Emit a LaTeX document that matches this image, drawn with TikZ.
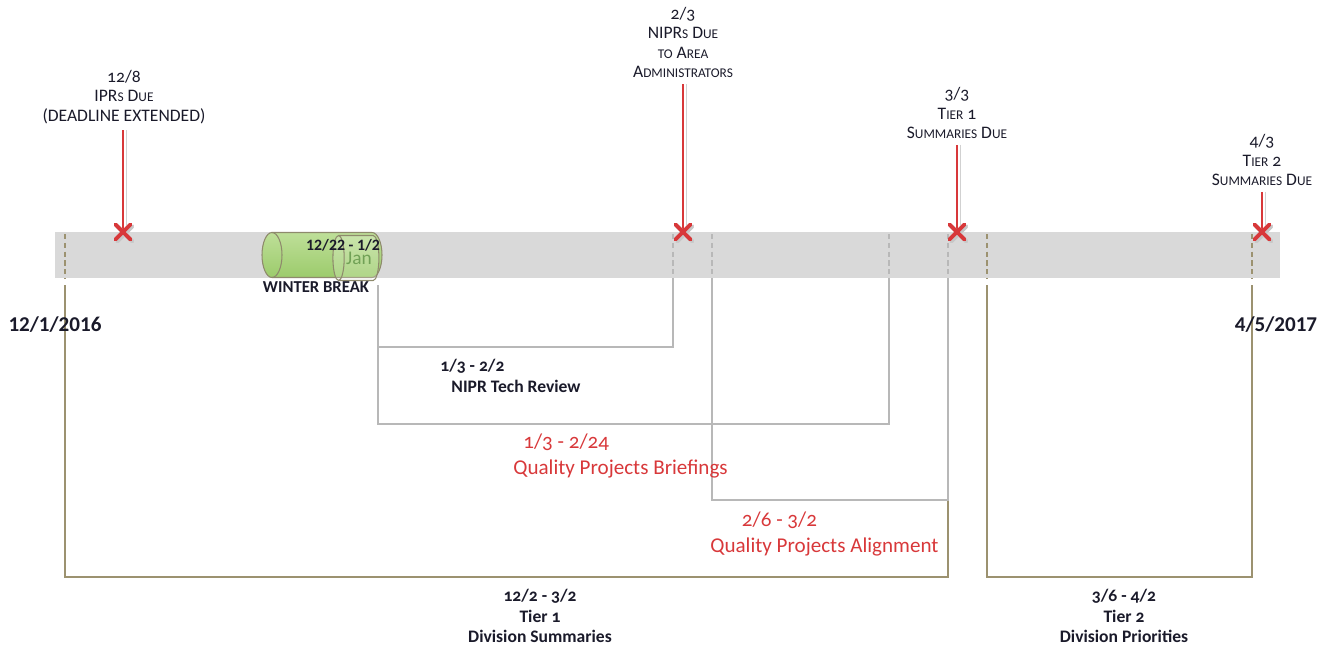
\documentclass[tikz,border=0pt]{standalone}
\usepackage{fontspec}
\setmainfont{Carlito}
\newfontfamily\osf[Numbers=OldStyle]{Carlito}
\usetikzlibrary{shapes.geometric, shapes.misc}

\definecolor{pinred}{HTML}{D8383A}
\definecolor{tiercol}{HTML}{9C9270}
\definecolor{spancol}{HTML}{B8B8B8}
\definecolor{barcol}{HTML}{D9D9D9}
\definecolor{labcol}{HTML}{1A1A2A}
\definecolor{wbtop}{HTML}{BEDF98}
\definecolor{wbmid}{HTML}{78B343}
\definecolor{wbbot}{HTML}{9CCB6C}
\definecolor{wbedge}{HTML}{8E8A6C}

% small capitals made by hand
\newcommand\lc[1]{{\fontsize{7.6}{9}\selectfont\MakeUppercase{#1}}}

\begin{document}
\begin{tikzpicture}[x=0.02cm, y=-0.02cm,
    daytick/.style={dash pattern=on 3pt off 2pt, line width=0.7pt},
    spanline/.style={draw=spancol, line width=0.8pt},
    tierline/.style={draw=tiercol, line width=0.8pt},
    xmark/.style={cross out, draw=pinred, line width=2.2pt, minimum size=0.22cm, inner sep=0pt, line cap=round,
      preaction={draw=black!22, transform canvas={xshift=1pt, yshift=-1pt}}},
    dueline/.style={draw=pinred, line width=0.8pt,
      preaction={draw=black!18, transform canvas={xshift=1.8pt}}},
    duelab/.style={align=center, text=labcol, font=\osf\fontsize{10}{11.1}\selectfont},
    spanlab/.style={align=left, inner sep=0pt, text=labcol, font=\osf\bfseries\fontsize{10}{12}\selectfont},
    qplab/.style={align=left, inner sep=0pt, text=pinred, font=\osf\fontsize{12}{14.8}\selectfont},
    tierlab/.style={align=center, inner sep=0pt, text=labcol, font=\osf\bfseries\fontsize{10}{11.7}\selectfont},
    datelab/.style={inner sep=0pt, text=labcol, font=\bfseries\fontsize{12}{14}\selectfont},
    wbcyl/.style={cylinder, shape border rotate=180, aspect=0.9, draw=wbedge, line width=0.6pt, inner sep=0pt}]
  \useasboundingbox (0,0) rectangle (1330,646);

  % timeline bar
  \fill[barcol] (55,232) rectangle (1280,278);
  \foreach \x in {673,712,889,948} \draw[daytick, spancol] (\x,234) -- (\x,278);
  \foreach \x in {65,987,1252} \draw[daytick, tiercol] (\x,234) -- (\x,278);

  \coordinate (dec1) at (65,285);
  \coordinate (jan3) at (378,285);
  \coordinate (feb2) at (673,279);
  \coordinate (feb6) at (712,279);
  \coordinate (feb24) at (889,279);
  \coordinate (mar2) at (948,279);
  \coordinate (mar6) at (987,285);
  \coordinate (apr2) at (1252,285);

  % spans below the bar
  \draw[tierline] (dec1) -- ++(0,292) -| (mar2);
  \draw[tierline] (mar6) -- ++(0,292) -| (apr2);
  \draw[spanline] (jan3) -- ++(0,62) -| (feb2);
  \draw[spanline] (jan3) -- ++(0,139) -| (feb24);
  \draw[spanline] (feb6) -- ++(0,221) -| (mar2);

  % winter break
  \shade[top color=wbtop, middle color=wbmid, bottom color=wbbot, draw=wbedge, line width=0.6pt]
    (272,232.5) -- (372,232.5) arc[start angle=90, end angle=-90, x radius=0.2cm, y radius=0.45cm]
    -- (272,277.5) arc[start angle=270, end angle=90, x radius=0.2cm, y radius=0.45cm] -- cycle;
  \draw[wbedge, line width=0.6pt] (272,232.5) arc[start angle=90, end angle=-90, x radius=0.2cm, y radius=0.45cm];
  \node[wbcyl, minimum height=0.92cm, minimum width=0.9cm, fill=white, fill opacity=0.2, text opacity=1, text=wbedge!80!green, font=\fontsize{11}{12}\selectfont] (jan) at (359,258) {Jan};
  \node[inner sep=0pt, text=labcol, font=\bfseries\fontsize{9}{10}\selectfont] (wb-date) at (343,245) {12/22 - 1/2};
  \node[inner sep=0pt, text=labcol, font=\bfseries\fontsize{9.5}{10}\selectfont] (wb-lab) at (316,287) {WINTER BREAK};

  % start and end dates
  \node[datelab] (start) at (55,325) {12/1/2016};
  \node[datelab] (end) at (1276,325) {4/5/2017};

  % span labels
  \node[spanlab, anchor=west] (nt-lab) at (440,375.5) {1/3 - 2/2\\\hspace*{6.3pt}NIPR Tech Review};
  \node[qplab, anchor=west] (qb-lab) at (513,456) {\hspace*{5.7pt}1/3 - 2/24\\Quality Projects Briefings};
  \node[qplab, anchor=west] (qa-lab) at (710,534) {\hspace*{18pt}2/6 - 3/2\\Quality Projects Alignment};
  \node[tierlab] (t1-lab) at (540,616) {12/2 - 3/2\\Tier 1\\Division Summaries};
  \node[tierlab] (t2-lab) at (1124,616) {3/6 - 4/2\\Tier 2\\Division Priorities};

  % due dates
  \node[duelab] (ipr-lab) at (124,97) {12/8\\IPR\lc{s} D\lc{ue}\\(DEADLINE EXTENDED)};
  \node[duelab] (nipr-lab) at (683,42.5) {2/3\\NIPR\lc{s} D\lc{ue}\\\lc{to} A\lc{rea}\\A\lc{dministrators}};
  \node[duelab] (t1-due) at (957,113) {3/3\\T\lc{ier} 1\\S\lc{ummaries} D\lc{ue}};
  \node[duelab] (t2-due) at (1262,160) {4/3\\T\lc{ier} 2\\S\lc{ummaries} D\lc{ue}};

  \node[xmark] (ipr) at (123,232) {};
  \node[xmark] (nipr) at (683,232) {};
  \node[xmark] (t1) at (957,232) {};
  \node[xmark] (t2) at (1262,232) {};

  \draw[dueline] (ipr |- ipr-lab.south) -- (ipr.center);
  \draw[dueline] (nipr |- nipr-lab.south) -- (nipr.center);
  \draw[dueline] (t1 |- t1-due.south) -- (t1.center);
  \draw[dueline] (t2 |- t2-due.south) -- (t2.center);
  \foreach \m in {ipr,nipr,t1,t2} \node[xmark] at (\m) {};
\end{tikzpicture}
\end{document}
